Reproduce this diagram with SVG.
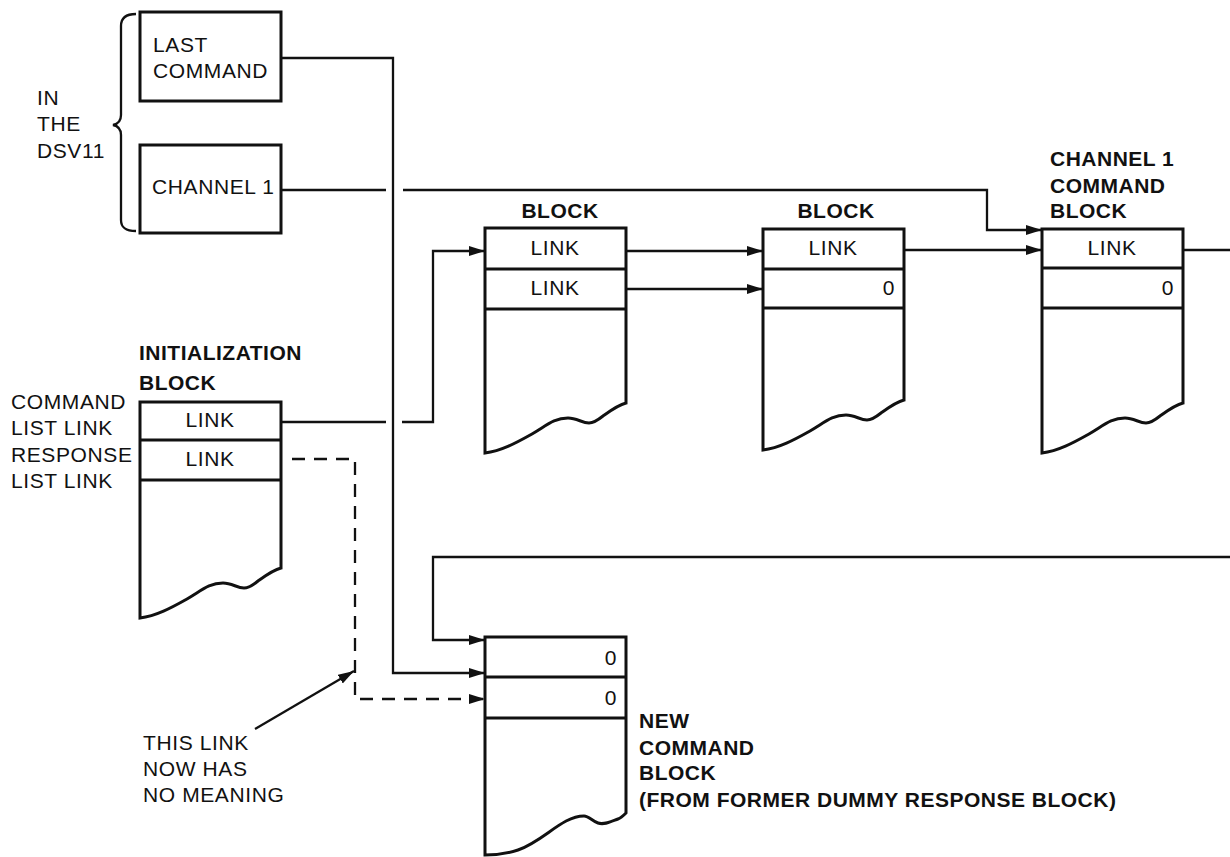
<svg xmlns="http://www.w3.org/2000/svg" width="1230" height="857" viewBox="0 0 1230 857">
<defs>
<style>
.box{fill:#fff;stroke:#111;stroke-width:3;stroke-linejoin:miter}
.div{stroke:#111;stroke-width:3}
.con{fill:none;stroke:#111;stroke-width:2.3}
.dash{fill:none;stroke:#111;stroke-width:2.3;stroke-dasharray:13 9}
.t{font-family:"Liberation Sans",Arial,sans-serif;font-size:21px;letter-spacing:0.6px;fill:#111}
.b{font-family:"Liberation Sans",Arial,sans-serif;font-size:21px;font-weight:bold;letter-spacing:0.5px;fill:#111}
.m{text-anchor:middle}
.e{text-anchor:end}
</style>
<marker id="ah" markerUnits="userSpaceOnUse" markerWidth="17" markerHeight="11" refX="16" refY="5" orient="auto">
<path d="M0,0 L16,5 L0,10 z" fill="#111"/>
</marker>
</defs>
<rect width="1230" height="857" fill="#fff"/>

<g id="dsv11-label">
<path class="con" d="M136,14 C126,14 121,18 121,26 V115 C121,121 118,124 113,125 C118,126 121,129 121,135 V220 C121,228 126,231 136,231"/>
<text class="t" x="37" y="105">IN</text>
<text class="t" x="37" y="131">THE</text>
<text class="t" x="37" y="158">DSV11</text>
</g>

<g id="last-command">
<rect class="box" x="140" y="12" width="141" height="89"/>
<text class="t" x="153" y="52">LAST</text>
<text class="t" x="153" y="78">COMMAND</text>
</g>

<g id="channel-1">
<rect class="box" x="140" y="145" width="141" height="88"/>
<text class="t" x="152" y="194">CHANNEL 1</text>
</g>

<g id="init-block">
<text class="b" x="139" y="360">INITIALIZATION</text>
<text class="b" x="139" y="390">BLOCK</text>
<text class="t" x="11" y="409">COMMAND</text>
<text class="t" x="11" y="435">LIST LINK</text>
<text class="t" x="11" y="462">RESPONSE</text>
<text class="t" x="11" y="488">LIST LINK</text>
<path class="box" d="M140,402 H281 V568 c -8,2 -16,8 -23,13 c -5,4 -9,7 -14,7 c -7,0 -12,-5 -21,-5 c -14,0 -22,8 -36,16 c -16,9 -31,17 -47,19 Z"/>
<line class="div" x1="140" y1="440" x2="281" y2="440"/>
<line class="div" x1="140" y1="480" x2="281" y2="480"/>
<text class="t m" x="210" y="427">LINK</text>
<text class="t m" x="210" y="466">LINK</text>
</g>

<g id="block-1">
<text class="b m" x="560" y="218">BLOCK</text>
<path class="box" d="M485,228 H626 V403 c -8,2 -16,8 -23,13 c -5,4 -9,7 -14,7 c -7,0 -12,-5 -21,-5 c -14,0 -22,8 -36,16 c -16,9 -31,17 -47,19 Z"/>
<line class="div" x1="485" y1="269" x2="626" y2="269"/>
<line class="div" x1="485" y1="309" x2="626" y2="309"/>
<text class="t m" x="555" y="255">LINK</text>
<text class="t m" x="555" y="295">LINK</text>
</g>

<g id="block-2">
<text class="b m" x="836" y="218">BLOCK</text>
<path class="box" d="M763,229 H904 V400 c -8,2 -16,8 -23,13 c -5,4 -9,7 -14,7 c -7,0 -12,-5 -21,-5 c -14,0 -22,8 -36,16 c -16,9 -31,17 -47,19 Z"/>
<line class="div" x1="763" y1="269" x2="904" y2="269"/>
<line class="div" x1="763" y1="308" x2="904" y2="308"/>
<text class="t m" x="833" y="255">LINK</text>
<text class="t e" x="895" y="295">0</text>
</g>

<g id="channel-1-command-block">
<text class="b" x="1050" y="166">CHANNEL 1</text>
<text class="b" x="1050" y="193">COMMAND</text>
<text class="b" x="1050" y="218">BLOCK</text>
<path class="box" d="M1042,229 H1183 V403 c -8,2 -16,8 -23,13 c -5,4 -9,7 -14,7 c -7,0 -12,-5 -21,-5 c -14,0 -22,8 -36,16 c -16,9 -31,17 -47,19 Z"/>
<line class="div" x1="1042" y1="268" x2="1183" y2="268"/>
<line class="div" x1="1042" y1="308" x2="1183" y2="308"/>
<text class="t m" x="1112" y="255">LINK</text>
<text class="t e" x="1174" y="295">0</text>
</g>

<g id="new-command-block">
<path class="box" d="M485,637 H626 V813 c -3,3 -5,5 -8,6 c -8,3 -14,6 -20,4 c -6,-2 -9,-7 -14,-7 c -22,0 -40,25 -66,34 c -12,4 -22,5 -33,5 Z"/>
<line class="div" x1="485" y1="677" x2="626" y2="677"/>
<line class="div" x1="485" y1="718" x2="626" y2="718"/>
<text class="t e" x="617" y="665">0</text>
<text class="t e" x="617" y="705">0</text>
<text class="b" x="639" y="728">NEW</text>
<text class="b" x="639" y="755">COMMAND</text>
<text class="b" x="639" y="780">BLOCK</text>
<text class="b" x="639" y="807">(FROM FORMER DUMMY RESPONSE BLOCK)</text>
</g>

<g id="note">
<text class="t" x="143" y="750">THIS LINK</text>
<text class="t" x="143" y="776">NOW HAS</text>
<text class="t" x="143" y="802">NO MEANING</text>
</g>

<g id="connectors">
<path class="con" d="M281,58 H393 V673 H485" marker-end="url(#ah)"/>
<path class="con" d="M281,190 H386"/>
<path class="con" d="M403,190 H987 V230 H1042" marker-end="url(#ah)"/>
<path class="con" d="M281,422 H386"/>
<path class="con" d="M402,422 H433 V251 H485" marker-end="url(#ah)"/>
<path class="dash" d="M292,459 H355 V699 H485" marker-end="url(#ah)"/>
<path class="con" d="M626,251 H763" marker-end="url(#ah)"/>
<path class="con" d="M626,289 H763" marker-end="url(#ah)"/>
<path class="con" d="M904,250 H1042" marker-end="url(#ah)"/>
<path class="con" d="M1183,250 H1230"/>
<path class="con" d="M1230,557 H433 V640 H485" marker-end="url(#ah)"/>
<path class="con" d="M255,729 L354,671" marker-end="url(#ah)"/>
</g>
</svg>
